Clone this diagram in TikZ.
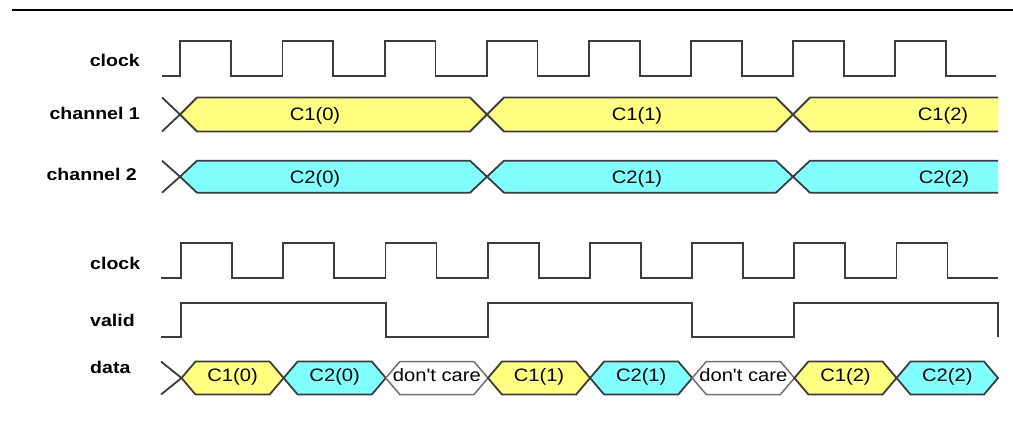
\documentclass[tikz,border=0pt]{standalone}
\usepackage{fontspec}
\setmainfont{Liberation Sans}
\definecolor{wyel}{HTML}{FFFF80}
\definecolor{wcyan}{HTML}{80FFFF}
\definecolor{wline}{HTML}{3C3C3C}
\definecolor{wgray}{HTML}{707070}
\newcommand\wseg[6]{%
  \filldraw[#6] (#1,{(#3+#4)/2}) -- (#1+#5,#3) -- (#2-#5,#3) -- (#2,{(#3+#4)/2}) -- (#2-#5,#4) -- (#1+#5,#4) -- cycle;}
\newcommand\sx[1]{\scalebox{1.12}[1]{#1}}
\newcommand\lx[1]{\scalebox{1.15}[1]{#1}}
\begin{document}
\begin{tikzpicture}[x=1pt,y=-1pt,
  wave/.style={draw=wline,line width=1.8pt,line join=miter},
  ylw/.style={wave,fill=wyel},
  cyn/.style={wave,fill=wcyan},
  dnc/.style={draw=wgray,line width=1.5pt,fill=white},
  lbl/.style={inner sep=0pt,text=black,font=\fontsize{17}{20}\selectfont\bfseries},
  segtxt/.style={inner sep=0pt,text=black,font=\fontsize{18}{21}\selectfont}]
\useasboundingbox (0,0) rectangle (1013,422);
\fill[white] (0,0) rectangle (1013,422);
% top rule
\draw[black,line width=2.4pt] (12,10) -- (1013,10);

% ---------- labels ----------
\node[lbl,anchor=base east] (lclk1) at (140,67) {\lx{clock}};
\node[lbl,anchor=base east] (lch1) at (140,120) {\lx{channel 1}};
\node[lbl,anchor=base east] (lch2) at (137,181) {\lx{channel 2}};
\node[lbl,anchor=base west] (lclk2) at (90,270) {\lx{clock}};
\node[lbl,anchor=base west] (lvalid) at (90,326.5) {\lx{valid}};
\node[lbl,anchor=base west] (ldata) at (90,373.3) {\lx{data}};

% ---------- upper clock ----------
\draw[wave] (162,76) foreach \r in {180.3,282.45,384.6,486.75,588.9,691.05,793.2,895.35} {
  -- (\r,76) -- (\r,41) -- (\r+50.8,41) -- (\r+50.8,76) } -- (996,76);

% ---------- channel 1 ----------
\draw[wave] (162,97.5) -- (180,114.5) -- (162,131.5);
\wseg{180}{487}{97.5}{131.5}{17}{ylw}
\wseg{487}{793}{97.5}{131.5}{17}{ylw}
\fill[wyel] (793,114.5) -- (810,97.5) -- (998,97.5) -- (998,131.5) -- (810,131.5) -- cycle;
\draw[wave] (998,97.5) -- (810,97.5) -- (793,114.5) -- (810,131.5) -- (998,131.5);
\node[segtxt,anchor=base] (c10) at (315,121) {\sx{C1(0)}};
\node[segtxt,anchor=base] (c11) at (637,121) {\sx{C1(1)}};
\node[segtxt,anchor=base] (c12) at (943,121) {\sx{C1(2)}};

% ---------- channel 2 ----------
\draw[wave] (162,160.7) -- (180,176.7) -- (162,192.7);
\wseg{180}{487}{160.7}{192.7}{17}{cyn}
\wseg{487}{793}{160.7}{192.7}{17}{cyn}
\fill[wcyan] (793,176.7) -- (810,160.7) -- (998,160.7) -- (998,192.7) -- (810,192.7) -- cycle;
\draw[wave] (998,160.7) -- (810,160.7) -- (793,176.7) -- (810,192.7) -- (998,192.7);
\node[segtxt,anchor=base] (c20) at (315,183.5) {\sx{C2(0)}};
\node[segtxt,anchor=base] (c21) at (637,183.5) {\sx{C2(1)}};
\node[segtxt,anchor=base] (c22) at (944,183.5) {\sx{C2(2)}};

% ---------- lower clock ----------
\draw[wave] (161,278) foreach \r in {181,283.2,385.4,487.6,589.8,692,794.2,896.4} {
  -- (\r,278) -- (\r,243) -- (\r+51,243) -- (\r+51,278) } -- (998,278);

% ---------- valid ----------
\draw[wave] (161,337) -- (181,337) -- (181,303) -- (386,303) -- (386,337)
  -- (487.6,337) -- (487.6,303) -- (692,303) -- (692,337) -- (794,337)
  -- (794,303) -- (998,303) -- (998,337);

% ---------- data ----------
\draw[wave] (161,361.5) -- (181.5,378) -- (161,394.5);
\wseg{181.5}{283.65}{361.5}{394.5}{14}{ylw}
\wseg{283.65}{385.8}{361.5}{394.5}{14}{cyn}
\wseg{385.8}{487.95}{361.5}{394.5}{14}{dnc}
\wseg{487.95}{590.1}{361.5}{394.5}{14}{ylw}
\wseg{590.1}{692.25}{361.5}{394.5}{14}{cyn}
\wseg{692.25}{794.4}{361.5}{394.5}{14}{dnc}
\wseg{794.4}{896.55}{361.5}{394.5}{14}{ylw}
\wseg{896.55}{998}{361.5}{394.5}{14}{cyn}
\node[segtxt,anchor=base] (d1) at (232.6,381.5) {\sx{C1(0)}};
\node[segtxt,anchor=base] (d2) at (334.7,381.5) {\sx{C2(0)}};
\node[segtxt,anchor=base] (d3) at (436.9,381.5) {\sx{don\textquotesingle t care}};
\node[segtxt,anchor=base] (d4) at (539,381.5) {\sx{C1(1)}};
\node[segtxt,anchor=base] (d5) at (641.2,381.5) {\sx{C2(1)}};
\node[segtxt,anchor=base] (d6) at (743.3,381.5) {\sx{don\textquotesingle t care}};
\node[segtxt,anchor=base] (d7) at (845.5,381.5) {\sx{C1(2)}};
\node[segtxt,anchor=base] (d8) at (947.3,381.5) {\sx{C2(2)}};
\end{tikzpicture}
\end{document}
